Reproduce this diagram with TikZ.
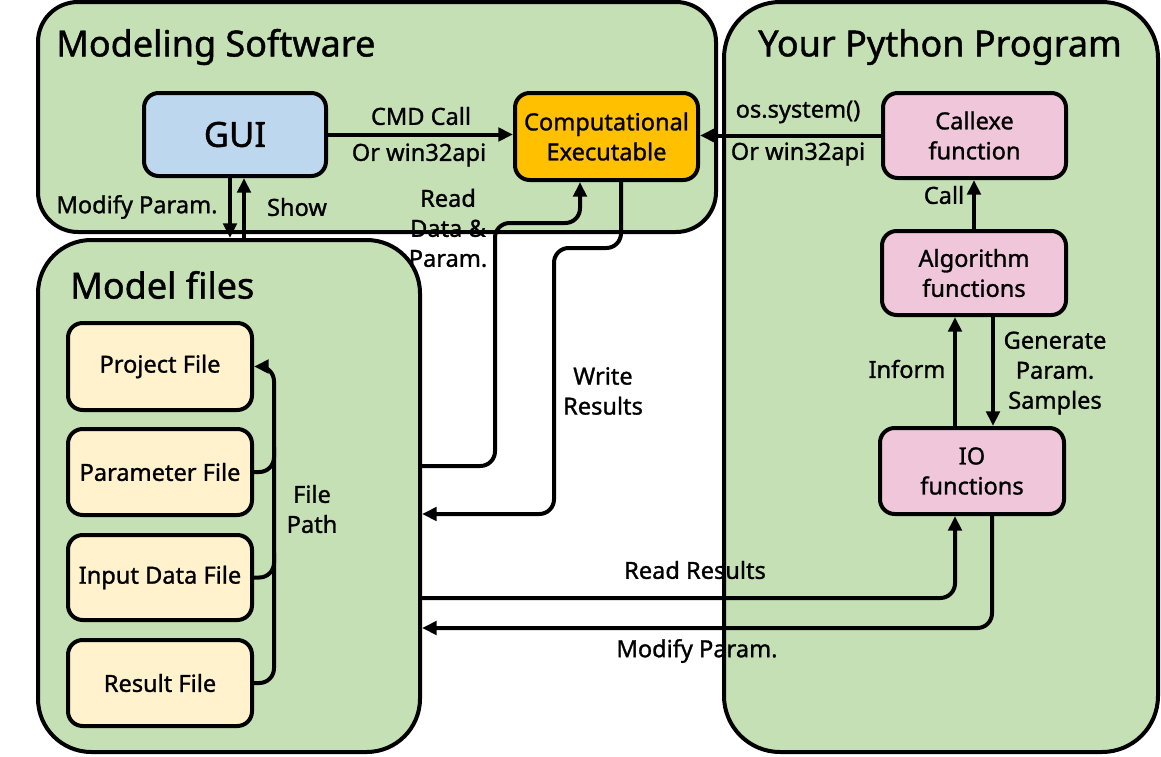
\documentclass[tikz,border=0pt]{standalone}
\usepackage{fontspec}
\setmainfont{Noto Sans}[FakeBold=1.2,AutoFakeBold=1.2]
\usetikzlibrary{arrows.meta,calc}
\definecolor{cgreen}{HTML}{C5E0B4}
\definecolor{cblue}{HTML}{BDD7EE}
\definecolor{corange}{HTML}{FFC000}
\definecolor{cpink}{HTML}{F0C6DA}
\definecolor{ccream}{HTML}{FFF2CC}
\begin{document}
\begin{tikzpicture}[x=0.75pt,y=-0.75pt,
  sz/.style 2 args={minimum width=#1*0.75pt, minimum height=#2*0.75pt},
  container/.style={draw, line width=3pt, fill=cgreen, rounded corners=#1, inner sep=0pt},
  box/.style={draw, line width=3pt, rounded corners=11pt, align=center, inner sep=0pt,
    font=\fontsize{17.7}{22.5}\selectfont\bfseries},
  lbl/.style={font=\fontsize{17.7}{22.5}\selectfont\bfseries, align=center, inner sep=0pt},
  title/.style={font=\fontsize{27}{32}\selectfont\bfseries, inner sep=0pt},
  wire/.style={line width=3pt, rounded corners=11pt},
  conn/.style={wire, -{Triangle[length=11pt,width=10pt]}}
]
\useasboundingbox (0,0) rectangle (1161,757);

% containers
\node[container=30pt, sz={678}{230}] (ms) at (377,117) {};
\node[container=40pt, sz={382}{512}] (mf) at (229,496) {};
\node[container=42pt, sz={434}{750}] (py) at (941,377) {};

\node[title, anchor=west] (mst) at (56,47) {Modeling Software};
\node[title] (pyt) at (940,47) {Your Python Program};
\node[title, anchor=west] (mft) at (70,285) {Model files};

% connectors
\coordinate (rdA) at ($(mf.east)+(0,-30)$);
\coordinate (wrB) at ($(mf.east)+(0,18)$);
\coordinate (rrA) at ($(mf.east)+(0,102)$);
\coordinate (mpB) at ($(mf.east)+(0,132)$);

% nodes
\node[box, fill=cblue, sz={182}{83}, font=\fontsize{26}{30}\selectfont\bfseries] (gui) at (235,134.5) {GUI};
\node[box, fill=corange, sz={183}{87}] (comp) at (606.5,136.5) {Computational\\Executable};
\node[box, fill=cpink, sz={183}{85}] (callexe) at (974.5,135.5) {Callexe\\function};
\node[box, fill=cpink, sz={184}{84}] (algo) at (974,273) {Algorithm\\functions};
\node[box, fill=cpink, sz={184}{86}] (io) at (972,471) {IO\\functions};
\node[box, fill=ccream, sz={184}{87}] (proj) at (160,366.5) {Project File};
\node[box, fill=ccream, sz={184}{86}] (param) at (160,472) {Parameter File};
\node[box, fill=ccream, sz={184}{85}] (input) at (160,577.5) {Input Data File};
\node[box, fill=ccream, sz={184}{86}] (result) at (160,683) {Result File};

\draw[conn] (gui.east) -- (gui.east -| comp.west);
\draw[conn] (callexe.west) -- (callexe.west -| comp.east);

\coordinate (mpx) at ($(gui.south)+(-5,0)$);
\coordinate (shx) at ($(gui.south)+(9,0)$);
\draw[conn] (mpx) -- (mpx |- mf.north);
\draw[conn] (shx |- mf.north) -- (shx);

\draw[conn] (rdA) -| (495,223) -| ($(comp.south)+(-26.5,0)$);
\draw[conn] ($(comp.south)+(14.5,0)$) |- (554,248) |- (wrB);
\draw[conn] (rrA) -| ($(io.south)+(-17,0)$);
\draw[conn] ($(io.south)+(20,0)$) |- (mpB);

\coordinate (inf) at ($(io.north)+(-17,0)$);
\coordinate (gen) at ($(algo.south)+(19,0)$);
\draw[conn] (inf) -- (inf |- algo.south);
\draw[conn] (gen) -- (gen |- io.north);
\draw[conn] (algo.north) -- (algo.north |- callexe.south);

\draw[conn] (result.east) -| ($(proj.east)+(20,0)$) -- (proj.east);
\draw[wire] (param.east) -| ($(param.east)+(20,-25)$);
\draw[wire] (input.east) -| ($(input.east)+(20,-25)$);

% labels
\node[lbl] (l1) at (421,116) {CMD Call};
\node[lbl] (l2) at (419,155) {Or win32api};
\node[lbl] (l3) at (798,112) {os.system()};
\node[lbl] (l4) at (798,154) {Or win32api};
\node[lbl] (l5) at (137,207) {Modify Param.};
\node[lbl] (l6) at (297,207) {Show};
\node[lbl] (l7) at (448,228) {Read\\Data \&\\Param.};
\node[lbl] (l8) at (603,391) {Write\\Results};
\node[lbl] (l9) at (944,195) {Call};
\node[lbl] (l10) at (907,369) {Inform};
\node[lbl] (l11) at (1055,373) {Generate\\Param.\\Samples};
\node[lbl] (l12) at (312,509) {File\\Path};
\node[lbl] (l13) at (695,570) {Read Results};
\node[lbl] (l14) at (697,651) {Modify Param.};
\end{tikzpicture}
\end{document}
